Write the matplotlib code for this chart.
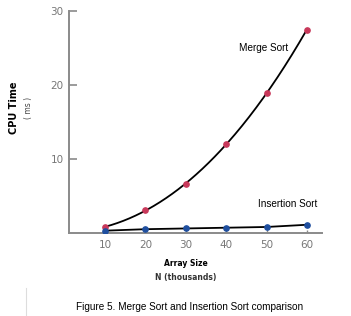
import numpy as np
import matplotlib.pyplot as plt

array_size = [10, 20, 30, 40, 50, 60]
merge_sort = [0.8, 3.1, 6.6, 12.0, 18.9, 27.5]
insertion_sort = [0.3, 0.5, 0.6, 0.7, 0.8, 1.1]

fig = plt.figure(figsize=(3.51, 3.16), dpi=100)
ax = fig.add_axes([0.197, 0.263, 0.72, 0.702])

# smooth curve through the merge sort points
coef = np.polyfit(array_size, merge_sort, 3)
xs = np.linspace(array_size[0], array_size[-1], 200)
ax.plot(xs, np.polyval(coef, xs), color='black', lw=1.3, zorder=2)
ax.plot(array_size, merge_sort, 'o', color='#c8385a', ms=3.8, zorder=3)

ax.plot(array_size, insertion_sort, '-', color='black', lw=1.3, zorder=2)
ax.plot(array_size, insertion_sort, 'o', color='#1f4f9f', ms=3.8, zorder=3)

ax.text(49.2, 25, "Merge Sort", fontsize=7.2, ha='center', va='center',
        family='Liberation Sans', bbox=dict(fc='white', ec='none', pad=1), zorder=4)
ax.text(55.3, 3.9, "Insertion Sort", fontsize=7.2, ha='center', va='center',
        family='Liberation Sans')

ax.set_xlim(1.1, 63.7)
ax.set_ylim(0, 30)
ax.set_xticks(array_size)
ax.set_yticks([10, 20, 30])
for s in ['top', 'right']:
    ax.spines[s].set_visible(False)
for s in ['left', 'bottom']:
    ax.spines[s].set_color('#8a8a8a')
    ax.spines[s].set_linewidth(1.4)
ax.tick_params(axis='y', direction='in', length=6, width=1.2, color='#8a8a8a',
               labelsize=7.5, labelcolor='#777777', pad=4)
ax.tick_params(axis='x', direction='in', length=2, width=1, color='#8a8a8a',
               labelsize=7.5, labelcolor='#777777', pad=5)

fig.text(0.04, 0.66, "CPU Time", rotation=90, fontsize=7, fontweight='bold',
         ha='center', va='center')
fig.text(0.08, 0.66, "( ms )", rotation=90, fontsize=5.5, color='#444444',
         ha='center', va='center')
fig.text(0.53, 0.165, "Array Size", fontsize=5.5, fontweight='bold',
         ha='center', va='center')
fig.text(0.53, 0.123, "N (thousands)", fontsize=5.5, fontweight='bold',
         color='#333333', ha='center', va='center')
fig.text(0.54, 0.03, "Figure 5. Merge Sort and Insertion Sort comparison",
         fontsize=7.2, family='Liberation Sans', ha='center', va='center')
fig.add_artist(plt.Line2D([0.074, 0.074], [0.0, 0.09], color='#dddddd', lw=0.8))

fig.savefig("out.png", dpi=100)
